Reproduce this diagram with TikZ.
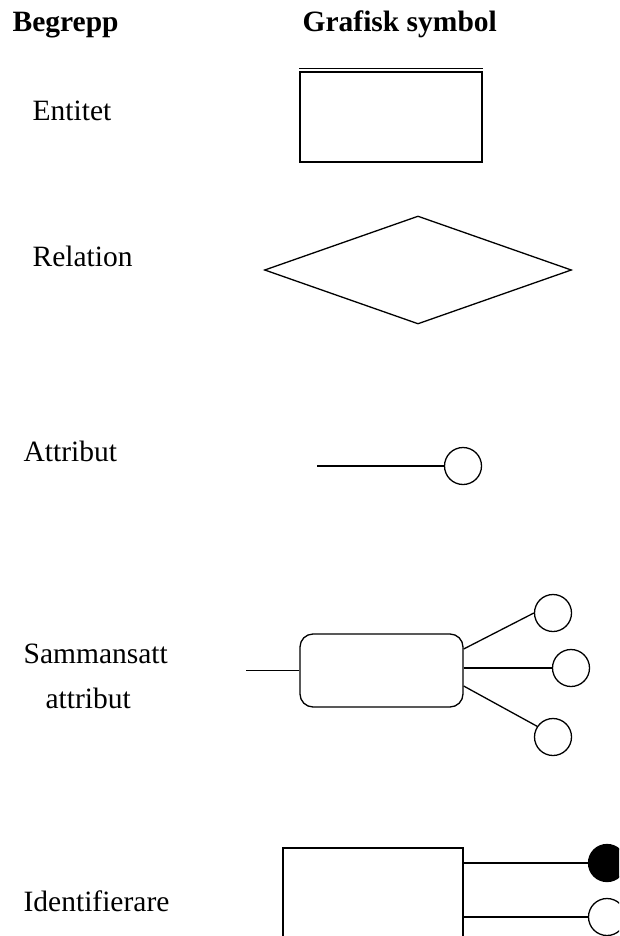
\documentclass[tikz,border=0pt]{standalone}
\usepackage{fontspec}
\setmainfont{Liberation Serif}
\usetikzlibrary{shapes.geometric}
\begin{document}
\begin{tikzpicture}[x=1pt,y=-1pt,
  line width=1.3pt,
  lbl/.style={anchor=base west,inner sep=0pt,font=\fontsize{29.5}{35}\selectfont},
  hdr/.style={lbl,font=\fontsize{29.5}{35}\selectfont\bfseries},
  attr/.style={circle,draw,minimum size=37pt,inner sep=0pt},
  keyattr/.style={attr,fill=black},
  box/.style={draw,rectangle,inner sep=0pt}]
\useasboundingbox (0,0) rectangle (619,936);
\clip (0,0) rectangle (619,936);

% column headings
\node[hdr] (hbeg) at (12,32) {Begrepp};
\node[hdr] (hsym) at (302,32) {Grafisk symbol};

% concept names
\node[lbl] (tent) at (32,121) {Entitet};
\node[lbl] (trel) at (32,266) {Relation};
\node[lbl] (tatt) at (23,461) {Attribut};
\node[lbl] (tsam) at (23,663) {Sammansatt};
\node[lbl] (tsam2) at (45,708) {attribut};
\node[lbl] (tid) at (23,911) {Identifierare};

% entity: box with a double top edge
\node[box,minimum width=182pt,minimum height=90pt] (ent) at (391,117) {};
\draw ([yshift=3pt]ent.north west) -- ([yshift=3pt]ent.north east);

% relation: diamond
\node[diamond,draw,inner sep=0pt,minimum width=307pt,minimum height=108pt] (rel) at (418,270) {};

% attribute
\coordinate (astart) at (317,466);
\node[attr] (att) at (463,466) {};
\draw (astart) -- (att.west);

% composite attribute
\node[box,rounded corners=13pt,minimum width=163pt,minimum height=73pt] (comp) at (381.5,670.5) {};
\coordinate (cstart) at (246,670.5);
\node[attr] (c1) at (553,613) {};
\node[attr] (c2) at (571,668) {};
\node[attr] (c3) at (553,737) {};
\draw (cstart) -- (comp.west);
\draw ([yshift=21.5pt]comp.east) -- (c1.west);
\draw ([yshift=2.5pt]comp.east) -- (c2.west);
\draw ([yshift=-15.5pt]comp.east) -- (c3.146);

% identifier
\node[box,minimum width=180pt,minimum height=132pt] (idb) at (373,914) {};
\node[keyattr] (k1) at (607,863) {};
\node[attr] (k2) at (607,917) {};
\draw (idb.east |- k1) -- (k1.west);
\draw (idb.east |- k2) -- (k2.west);
\end{tikzpicture}
\end{document}
